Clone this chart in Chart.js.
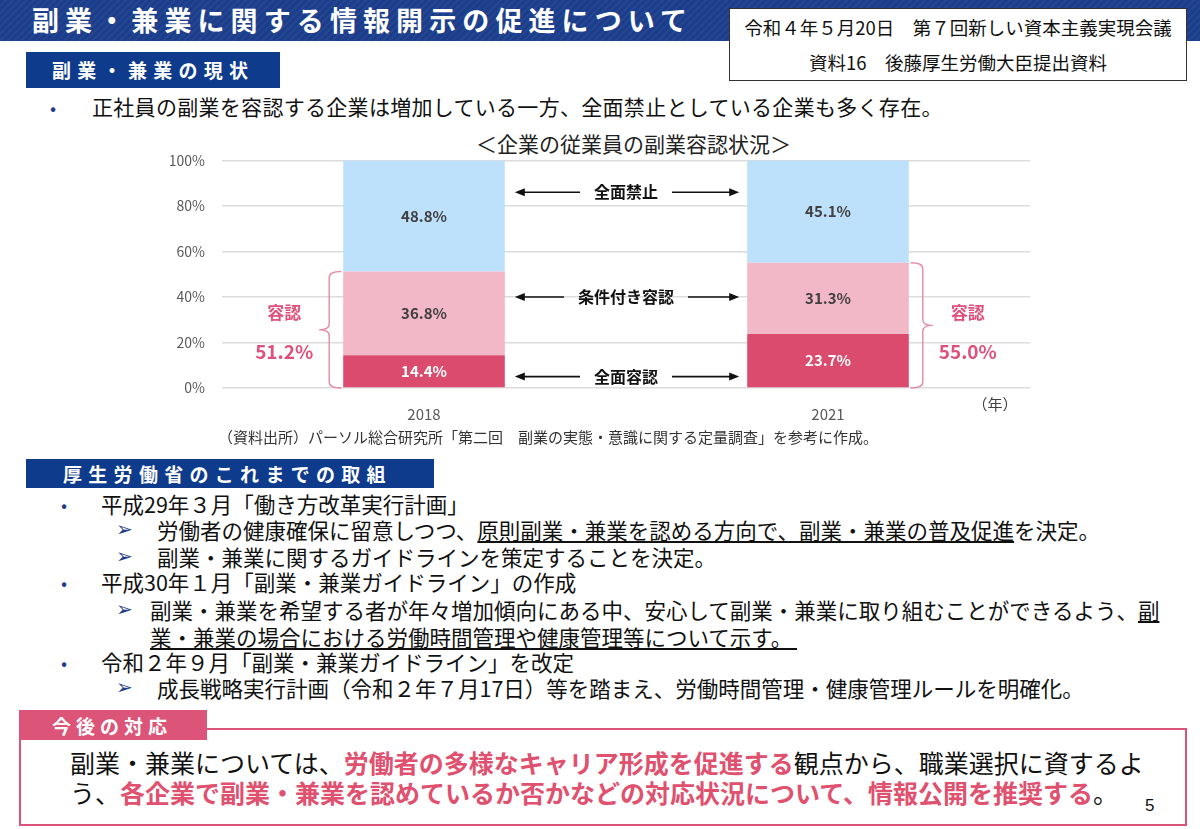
<!DOCTYPE html>
<html lang="ja">
<head>
<meta charset="utf-8">
<title>副業・兼業に関する情報開示の促進について</title>
<script src="https://cdn.jsdelivr.net/npm/chart.js@4.4.1/dist/chart.umd.min.js"></script>
<style>
  html, body { margin: 0; padding: 0; }
  body {
    width: 1200px; height: 829px; position: relative; overflow: hidden;
    background: #fff; color: #111;
    font-family: "Noto Sans CJK JP", "Noto Sans", sans-serif;
  }
  .t { position: absolute; white-space: nowrap; line-height: 1; }
  .band {
    position: absolute; left: 0; top: 0; width: 1200px; height: 41px;
    background: repeating-linear-gradient(135deg, #1b3d8c 0 3px, #23468f 3px 5px);
  }
  .title { left: 32px; top: 6px; font-size: 27px; font-weight: 700; color: #fff; letter-spacing: 6.1px; }
  .info {
    position: absolute; left: 729px; top: 8px; width: 456px; height: 71px;
    background: #fff; border: 1.5px solid #333;
  }
  .info div { position: absolute; left: 0; width: 100%; text-align: center; font-size: 18.5px; line-height: 1; }
  .sec { position: absolute; background: #0f3b8d; }
  .sec span { position: absolute; color: #fff; font-weight: 700; font-size: 19px; letter-spacing: 6.3px; line-height: 1; white-space: nowrap; }
  .bul { color: #1f3d8a; font-size: 18px; }
  .arr { color: #1f3d8a; font-size: 20px; font-family: "DejaVu Sans", sans-serif; }
  .li { font-size: 21.5px; }
  .pink { color: #e0506f; font-weight: 700; }
  #chartWrap { position: absolute; left: 150px; top: 135px; width: 890px; height: 295px; }
  .box { position: absolute; left: 19px; top: 728px; width: 1164px; height: 94px; border: 2.5px solid #dc5579; }
  .tab { position: absolute; left: 19px; top: 710px; width: 188px; height: 30px; background: #dc5579; }
</style>
</head>
<body>

<div class="band"></div>
<div class="t title">副業・兼業に関する情報開示の促進について</div>

<div class="info">
  <div style="top:9px">令和４年５月20日　第７回新しい資本主義実現会議</div>
  <div style="top:44px">資料16　後藤厚生労働大臣提出資料</div>
</div>

<div class="sec" style="left:26px;top:52px;width:254px;height:36px"><span style="left:26px;top:8px">副業・兼業の現状</span></div>

<div class="t bul" style="left:50px;top:98px">•</div>
<div class="t" style="left:92px;top:96px;font-size:21px;letter-spacing:0.3px">正社員の副業を容認する企業は増加している一方、全面禁止としている企業も多く存在。</div>

<div class="t" style="left:476px;top:133px;font-size:21px;color:#222">＜企業の従業員の副業容認状況＞</div>

<div id="chartWrap"><canvas id="chart"></canvas></div>

<div class="t" style="left:218px;top:429px;font-size:15px;color:#333">（資料出所）パーソル総合研究所「第二回　副業の実態・意識に関する定量調査」を参考に作成。</div>

<div class="sec" style="left:26px;top:459px;width:408px;height:29px"><span style="left:37px;top:5px">厚生労働省のこれまでの取組</span></div>

<div class="t bul" style="left:61px;top:495px">•</div>
<div class="t li" style="left:101px;top:493px">平成29年３月「働き方改革実行計画」</div>
<div class="t arr" style="left:116px;top:519px">➢</div>
<div class="t li" style="left:157px;top:519px">労働者の健康確保に留意しつつ、<u>原則副業・兼業を認める方向で、副業・兼業の普及促進</u>を決定。</div>
<div class="t arr" style="left:116px;top:546px">➢</div>
<div class="t li" style="left:157px;top:546px">副業・兼業に関するガイドラインを策定することを決定。</div>
<div class="t bul" style="left:61px;top:573px">•</div>
<div class="t li" style="left:101px;top:571px">平成30年１月「副業・兼業ガイドライン」の作成</div>
<div class="t arr" style="left:116px;top:599px">➢</div>
<div class="t li" style="left:150px;top:599px">副業・兼業を希望する者が年々増加傾向にある中、安心して副業・兼業に取り組むことができるよう、<u>副</u></div>
<div class="t li" style="left:150px;top:626px"><u>業・兼業の場合における労働時間管理や健康管理等について示す。&nbsp;</u></div>
<div class="t bul" style="left:61px;top:653px">•</div>
<div class="t li" style="left:101px;top:651px">令和２年９月「副業・兼業ガイドライン」を改定</div>
<div class="t arr" style="left:116px;top:677px">➢</div>
<div class="t li" style="left:157px;top:677px">成長戦略実行計画（令和２年７月17日）等を踏まえ、労働時間管理・健康管理ルールを明確化。</div>

<div class="box"></div>
<div class="tab"><span class="t" style="left:33px;top:6px;color:#fff;font-weight:700;font-size:19px;letter-spacing:5px">今後の対応</span></div>
<div class="t" style="left:70px;top:750px;font-size:25px">副業・兼業については、<span class="pink">労働者の多様なキャリア形成を促進する</span>観点から、職業選択に資するよ</div>
<div class="t" style="left:70px;top:780px;font-size:25px">う、<span class="pink">各企業で副業・兼業を認めているか否かなどの対応状況について、情報公開を推奨する</span>。</div>
<div class="t" style="left:1145px;top:797px;font-size:17px;font-family:'Liberation Sans',Arial,sans-serif">5</div>

<script>
// chart data (percent of companies)
const years = ['2018', '2021']
const fullAllow = [14.4, 23.7]      // 全面容認
const conditional = [36.8, 31.3]    // 条件付き容認
const fullBan = [48.8, 45.1]        // 全面禁止
const seriesNames = ['全面容認', '条件付き容認', '全面禁止']
const seriesColors = ['#db4b6d', '#f2b8c7', '#bde0fb']
const labelColors = ['#ffffff', '#404040', '#404040']
const arrowLevels = [5, 40, 86]     // where the arrow labels sit on the y axis
const yTicks = { min: 0, max: 100, step: 20 }

const FONT = '"Noto Sans CJK JP", "Noto Sans", sans-serif'
const PINK = '#e0507a'

Chart.defaults.font.family = FONT

// values printed in the middle of each segment
const segmentLabels = {
	id: 'segmentLabels',
	afterDatasetsDraw(chart) {
		const ctx = chart.ctx
		ctx.save()
		ctx.font = `bold 15px ${FONT}`
		ctx.textAlign = 'center'
		ctx.textBaseline = 'middle'
		chart.data.datasets.forEach((ds, i) => {
			chart.getDatasetMeta(i).data.forEach((bar, j) => {
				ctx.fillStyle = labelColors[i]
				ctx.fillText(ds.data[j].toFixed(1) + '%', bar.x, (bar.y + bar.base) / 2)
			})
		})
		ctx.restore()
	}
}

function arrowLine(ctx, x1, x2, y) {
	// head at x2
	const dir = x2 > x1 ? 1 : -1
	ctx.beginPath()
	ctx.moveTo(x1, y)
	ctx.lineTo(x2 - dir * 8, y)
	ctx.stroke()
	ctx.beginPath()
	ctx.moveTo(x2, y)
	ctx.lineTo(x2 - dir * 10, y - 4)
	ctx.lineTo(x2 - dir * 10, y + 4)
	ctx.closePath()
	ctx.fill()
}

function brace(ctx, xLine, yTop, yBot, dir) {
	// dir -1 : tip points left, +1 : tip points right
	const yMid = (yTop + yBot) / 2
	const c = 12
	ctx.beginPath()
	ctx.moveTo(xLine - dir * c, yTop)
	ctx.quadraticCurveTo(xLine, yTop, xLine, yTop + 6)
	ctx.lineTo(xLine, yMid - 6)
	ctx.quadraticCurveTo(xLine, yMid, xLine + dir * 10, yMid)
	ctx.quadraticCurveTo(xLine, yMid, xLine, yMid + 6)
	ctx.lineTo(xLine, yBot - 6)
	ctx.quadraticCurveTo(xLine, yBot, xLine - dir * c, yBot)
	ctx.stroke()
	return xLine + dir * 10
}

// arrows, braces and the approval totals
const annotations = {
	id: 'annotations',
	afterDatasetsDraw(chart) {
		const { ctx, chartArea, scales: { y } } = chart
		const bars = chart.getDatasetMeta(0).data
		const gapLeft = bars[0].x + bars[0].width / 2
		const gapRight = bars[1].x - bars[1].width / 2
		const mid = (gapLeft + gapRight) / 2

		ctx.save()
		ctx.strokeStyle = '#111'
		ctx.fillStyle = '#111'
		ctx.lineWidth = 1.6
		ctx.font = `bold 16px ${FONT}`
		ctx.textAlign = 'center'
		ctx.textBaseline = 'middle'
		seriesNames.forEach((name, i) => {
			const py = y.getPixelForValue(arrowLevels[i])
			const w = ctx.measureText(name).width
			ctx.fillText(name, mid, py)
			arrowLine(ctx, mid - w / 2 - 14, gapLeft + 10, py)
			arrowLine(ctx, mid + w / 2 + 14, gapRight - 8, py)
		})

		// braces
		ctx.strokeStyle = '#e58aa2'
		ctx.lineWidth = 1.4
		const totals = years.map((_, i) => fullAllow[i] + conditional[i])
		const leftEdge = bars[0].x - bars[0].width / 2
		const rightEdge = bars[1].x + bars[1].width / 2
		const tipL = brace(ctx, leftEdge - 14, y.getPixelForValue(totals[0]), y.getPixelForValue(0), -1)
		const tipR = brace(ctx, rightEdge + 14, y.getPixelForValue(totals[1]), y.getPixelForValue(0), 1)

		ctx.fillStyle = PINK
		ctx.font = `bold 17px ${FONT}`
		ctx.fillText('容認', tipL - 35, y.getPixelForValue(33))
		ctx.fillText('容認', tipR + 35, y.getPixelForValue(33))
		ctx.font = `bold 19px ${FONT}`
		ctx.fillText(totals[0].toFixed(1) + '%', tipL - 35, y.getPixelForValue(16))
		ctx.fillText(totals[1].toFixed(1) + '%', tipR + 35, y.getPixelForValue(16))

		// unit
		ctx.fillStyle = '#404040'
		ctx.font = `15px ${FONT}`
		ctx.fillText('（年）', chartArea.right - 35, chartArea.bottom + 16)
		ctx.restore()
	}
}

const datasets = [fullAllow, conditional, fullBan].map((values, i) => ({
	label: seriesNames[i],
	data: values,
	backgroundColor: seriesColors[i],
	borderWidth: 0,
	categoryPercentage: 1,
	barPercentage: 0.4
}))

new Chart(document.getElementById('chart'), {
	type: 'bar',
	data: { labels: years, datasets },
	options: {
		responsive: true,
		maintainAspectRatio: false,
		animation: false,
		layout: { padding: { top: 10, right: 10, left: 0, bottom: 0 } },
		plugins: { legend: { display: false }, tooltip: { enabled: false } },
		scales: {
			x: {
				stacked: true,
				grid: { display: false, drawTicks: false },
				border: { display: false },
				ticks: { color: '#595959', font: { size: 15 }, padding: 17 },
				afterFit(s) { s.height = 42 }
			},
			y: {
				stacked: true,
				min: yTicks.min,
				max: yTicks.max,
				grid: { color: '#dcdcdc', lineWidth: 1.5, drawTicks: false },
				border: { display: false },
				ticks: {
					stepSize: yTicks.step,
					color: '#595959',
					font: { size: 14 },
					padding: 17,
					callback: v => v + '%'
				},
				afterFit(s) { s.width = 72 }
			}
		}
	},
	plugins: [segmentLabels, annotations]
})
</script>
</body>
</html>
